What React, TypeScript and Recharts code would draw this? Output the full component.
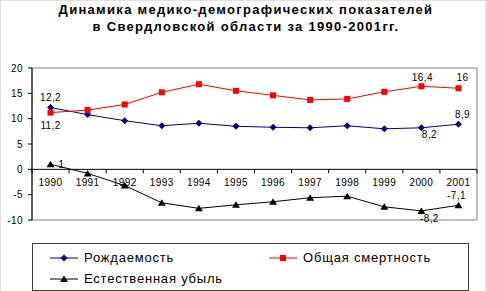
import React from 'react';
import { LineChart, Line, XAxis, YAxis, ReferenceArea, ReferenceLine } from 'recharts';

const years = ['1990', '1991', '1992', '1993', '1994', '1995', '1996', '1997', '1998', '1999', '2000', '2001'];
const birthRate = [12.2, 10.8, 9.6, 8.6, 9.1, 8.5, 8.3, 8.2, 8.6, 8.0, 8.2, 8.9];
const deathRate = [11.2, 11.7, 12.8, 15.2, 16.8, 15.5, 14.6, 13.7, 13.9, 15.3, 16.4, 16.0];
const naturalDecline = [1.0, -0.8, -3.2, -6.6, -7.7, -7.0, -6.4, -5.6, -5.3, -7.4, -8.2, -7.1];
const yTicks = [-10, -5, 0, 5, 10, 15, 20];
const seriesNames = ['Рождаемость', 'Общая смертность', 'Естественная убыль'];

const data = years.map((year, i) => ({
    year,
    birth: birthRate[i],
    death: deathRate[i],
    decline: naturalDecline[i],
}));

const FONT = '"Liberation Sans", Arial, sans-serif';
const W = 487;
const H = 291;
const MARGIN = { top: 68, right: 10, bottom: 50, left: 0 };
const Y_AXIS_W = 32;
const X_AXIS_H = 21;
const Y_MIN = -10;
const Y_MAX = 20;
const PLOT_W = W - MARGIN.left - MARGIN.right - Y_AXIS_W;
const PLOT_H = H - MARGIN.top - MARGIN.bottom - X_AXIS_H;

const BLUE = '#000080';
const RED = '#ff0000';
const BLACK = '#000000';

// x-axis crosses at zero, so shift ticks up from the plot bottom
const XTick = ({ x, y, payload, index }: any) => {
    const y0 = y - (PLOT_H * (0 - Y_MIN)) / (Y_MAX - Y_MIN);
    const bw = PLOT_W / years.length;
    return (
        <g>
            <line x1={x - bw / 2} x2={x - bw / 2} y1={y0} y2={y0 + 4} stroke="#000" />
            {index === years.length - 1 && (
                <line x1={x + bw / 2} x2={x + bw / 2} y1={y0} y2={y0 + 4} stroke="#000" />
            )}
            <text x={x} y={y0 + 17} textAnchor="middle" fontSize={10} fontFamily={FONT} fill="#000" letterSpacing={0.4}>
                {payload.value}
            </text>
        </g>
    );
};

const Diamond = ({ cx, cy }: any) =>
    cx == null ? null : <path d={`M${cx},${cy - 3.5}L${cx + 3.5},${cy}L${cx},${cy + 3.5}L${cx - 3.5},${cy}Z`} fill={BLUE} />;
const Square = ({ cx, cy }: any) =>
    cx == null ? null : <rect x={cx - 3} y={cy - 3} width={6} height={6} fill={RED} />;
const Triangle = ({ cx, cy }: any) =>
    cx == null ? null : <path d={`M${cx},${cy - 3.5}L${cx + 4},${cy + 3}L${cx - 4},${cy + 3}Z`} fill={BLACK} />;

const legendItems = [
    { name: seriesNames[0], color: BLUE, Marker: Diamond, left: 17, top: 8 },
    { name: seriesNames[1], color: RED, Marker: Square, left: 236, top: 8 },
    { name: seriesNames[2], color: BLACK, Marker: Triangle, left: 17, top: 29 },
];

// which points carry a value label, and where it sits relative to the point
const birthLabels: Record<number, [number, number]> = { 0: [0, -7], 10: [8, 10], 11: [4, -6] };
const deathLabels: Record<number, [number, number]> = { 0: [0, 16], 10: [1, -5], 11: [4, -7] };
const declineLabels: Record<number, [number, number]> = { 0: [11, 4], 10: [8, 11], 11: [-2, -6] };

const makeLabel = (spots: Record<number, [number, number]>) => (p: any) => {
    const off = spots[p.index];
    if (!off) return null;
    return (
        <text
            key={p.index}
            x={p.x + off[0]}
            y={p.y + off[1]}
            textAnchor="middle"
            fontSize={10}
            fontFamily={FONT}
            fill="#000"
            letterSpacing={0.4}
        >
            {String(p.value).replace('.', ',')}
        </text>
    );
};

const LegendBox = () => (
    <div
        style={{
            position: 'absolute',
            left: 31,
            top: 242,
            width: 437,
            height: 48,
            boxSizing: 'border-box',
            border: '1.5px solid #404040',
            fontFamily: FONT,
            fontSize: 13,
            letterSpacing: 0.8,
            color: '#000',
        }}
    >
        {legendItems.map(({ name, color, Marker, left, top }) => (
            <div key={name} style={{ position: 'absolute', left, top, display: 'flex', alignItems: 'center', whiteSpace: 'nowrap', lineHeight: '12px' }}>
                <svg width={30} height={12} style={{ display: 'block' }}>
                    <line x1={0} x2={28} y1={6} y2={6} stroke={color} />
                    <Marker cx={14} cy={6} />
                </svg>
                <span style={{ marginLeft: 4 }}>{name}</span>
            </div>
        ))}
    </div>
);

export default function App() {
    return (
        <div
            style={{
                position: 'absolute',
                left: 0,
                top: 0,
                width: W,
                height: H,
                boxSizing: 'border-box',
                borderTop: '1px solid #e0e0e0',
                borderLeft: '1px solid #e0e0e0',
                borderRight: '2px solid #e0e0e0',
                background: '#fff',
                overflow: 'hidden',
            }}
        >
            <div
                style={{
                    position: 'absolute',
                    left: 0,
                    top: 0,
                    width: 490,
                    textAlign: 'center',
                    fontFamily: FONT,
                    fontWeight: 'bold',
                    fontSize: 13,
                    letterSpacing: 1.3,
                    lineHeight: '17px',
                    color: '#000',
                }}
            >
                Динамика медико-демографических показателей
                <br />
                в Свердловской области за 1990-2001гг.
            </div>
            <div style={{ position: 'absolute', left: -1, top: -1 }}>
                <LineChart width={W} height={H} data={data} margin={MARGIN}>
                    <ReferenceArea y1={Y_MIN} y2={Y_MAX} fill="none" stroke="#808080" strokeWidth={1} />
                    <XAxis
                        dataKey="year"
                        scale="band"
                        height={X_AXIS_H}
                        interval={0}
                        axisLine={false}
                        tickLine={false}
                        tickSize={0}
                        tickMargin={0}
                        tick={(p: any) => <XTick {...p} />}
                    />
                    <YAxis
                        width={Y_AXIS_W}
                        domain={[Y_MIN, Y_MAX]}
                        ticks={yTicks}
                        interval={0}
                        tickSize={4}
                        tickMargin={5}
                        axisLine={{ stroke: '#000' }}
                        tickLine={{ stroke: '#000' }}
                        tick={{ fill: '#000', fontSize: 10, fontFamily: FONT, letterSpacing: 0.4 }}
                    />
                    <ReferenceLine y={0} stroke="#000" />
                    <Line
                        dataKey="birth"
                        name={seriesNames[0]}
                        stroke={BLUE}
                        strokeWidth={1}
                        dot={(p: any) => <Diamond key={p.index} {...p} />}
                        activeDot={false}
                        label={makeLabel(birthLabels)}
                        isAnimationActive={false}
                    />
                    <Line
                        dataKey="death"
                        name={seriesNames[1]}
                        stroke={RED}
                        strokeWidth={1}
                        dot={(p: any) => <Square key={p.index} {...p} />}
                        activeDot={false}
                        label={makeLabel(deathLabels)}
                        isAnimationActive={false}
                    />
                    <Line
                        dataKey="decline"
                        name={seriesNames[2]}
                        stroke={BLACK}
                        strokeWidth={1}
                        dot={(p: any) => <Triangle key={p.index} {...p} />}
                        activeDot={false}
                        label={makeLabel(declineLabels)}
                        isAnimationActive={false}
                    />
                </LineChart>
            </div>
            <LegendBox />
        </div>
    );
}
